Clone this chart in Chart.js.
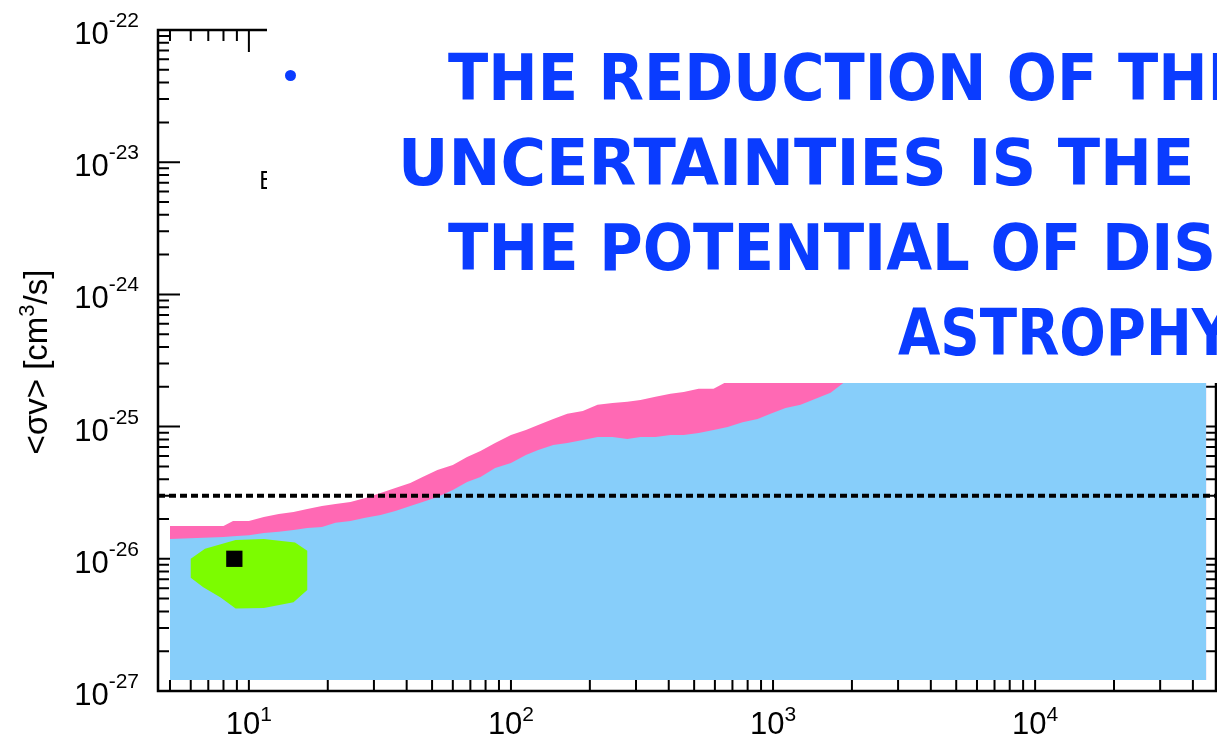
<!DOCTYPE html>
<html>
<head>
<meta charset="utf-8">
<script src="https://cdn.jsdelivr.net/npm/chart.js@4.4.1/dist/chart.umd.min.js"></script>
<style>
  body { margin: 0; background: #fff; }
  #quadro { position: relative; width: 1217px; height: 738px; overflow: hidden; }
  #grafico { position: absolute; left: 0; top: 0; }
  #letraE { position: absolute; left: 259px; top: 168px; font: 25px/25px "Liberation Sans Narrow", "DejaVu Sans Condensed", sans-serif; color: #000; }
  #caixa { position: absolute; left: 267px; top: 0; width: 960px; height: 383px; background: #fff; }
  #bala { position: absolute; left: 285px; top: 70px; width: 11px; height: 11px; border-radius: 50%; background: #0a3cff; }
  .linha { position: absolute; white-space: nowrap; font: bold 64px/64px "DejaVu Sans", sans-serif; color: #0a3cff; transform-origin: 0 0; }
</style>
</head>
<body>
<div id="quadro">
  <canvas id="grafico" width="1217" height="738"></canvas>
  <div id="letraE">E</div>
  <div id="caixa"></div>
  <div id="bala"></div>
  <div class="linha" id="l1">THE REDUCTION OF THE</div>
  <div class="linha" id="l2">UNCERTAINTIES IS THE</div>
  <div class="linha" id="l3">THE POTENTIAL OF DIS</div>
  <div class="linha" id="l4">ASTROPHY</div>
</div>
<script>
// massa (GeV) e limites de <sigma v> (cm^3/s)
const massa = [5, 8, 8.7, 10, 11.4, 13, 14.8, 16.7, 19, 21.4,
  24.4, 27.8, 31.8, 36.2, 41.3, 46, 52.4, 60, 68, 76.5,
  87, 100, 114, 127, 145, 164, 188, 214, 244, 278,
  312, 356, 406, 456, 520, 593, 671, 765, 873, 978,
  1116, 1274, 1518, 1658, 1891, 2500, 5000, 10000, 20000, 45000];

const limiteRosa = [1.77e-26, 1.77e-26, 1.93e-26, 1.93e-26, 2.07e-26, 2.18e-26, 2.26e-26, 2.38e-26, 2.51e-26, 2.60e-26,
  2.69e-26, 2.88e-26, 3.15e-26, 3.43e-26, 3.74e-26, 4.16e-26, 4.70e-26, 5.13e-26, 5.89e-26, 6.54e-26,
  7.52e-26, 8.64e-26, 9.42e-26, 1.03e-25, 1.14e-25, 1.25e-25, 1.31e-25, 1.46e-25, 1.51e-25, 1.54e-25,
  1.59e-25, 1.68e-25, 1.77e-25, 1.83e-25, 1.93e-25, 1.93e-25, 2.2e-25, 2.2e-25, 2.2e-25, 2.2e-25,
  2.2e-25, 2.2e-25, 2.2e-25, 2.2e-25, 2.2e-25, 2.2e-25, 2.2e-25, 2.2e-25, 2.2e-25, 2.2e-25];

const limiteAzul = [1.41e-26, 1.46e-26, 1.48e-26, 1.51e-26, 1.57e-26, 1.60e-26, 1.65e-26, 1.71e-26, 1.74e-26, 1.87e-26,
  1.93e-26, 2.04e-26, 2.14e-26, 2.30e-26, 2.51e-26, 2.69e-26, 2.93e-26, 3.31e-26, 3.81e-26, 4.16e-26,
  4.86e-26, 5.31e-26, 6.10e-26, 6.65e-26, 7.26e-26, 7.52e-26, 7.92e-26, 8.34e-26, 8.34e-26, 8.05e-26,
  8.34e-26, 8.34e-26, 8.64e-26, 8.64e-26, 8.95e-26, 9.42e-26, 9.93e-26, 1.08e-25, 1.14e-25, 1.25e-25,
  1.38e-25, 1.46e-25, 1.68e-25, 1.80e-25, 2.2e-25, 2.2e-25, 2.2e-25, 2.2e-25, 2.2e-25, 2.2e-25];

const fundo = 1.21e-27;

// contorno verde e melhor ajuste
const contornoX = [6.0, 6.8, 8.9, 11.4, 15.0, 16.7, 16.7, 14.8, 11.4, 8.9, 7.8, 6.7, 6.0, 6.0];
const contornoY = [1.0e-26, 1.19e-26, 1.39e-26, 1.41e-26, 1.33e-26, 1.15e-26, 5.8e-27, 4.7e-27, 4.25e-27, 4.2e-27, 5.1e-27, 6.1e-27, 7.2e-27, 1.0e-26];
const melhorX = [8.8];
const melhorY = [1.0e-26];

const termico = 3e-26;
const faixaX = [4.5, 49000];
const faixaY = [1e-27, 1e-22];
const expoentesX = [1, 2, 3, 4];
const expoentesY = [-27, -26, -25, -24, -23, -22];

const pares = (xs, ys) => xs.map((v, i) => ({ x: v, y: ys[i] }));

const moldura = {
  id: 'moldura',
  beforeDatasetsDraw(chart) {
    const { ctx, chartArea: a, scales: { x, y } } = chart;
    ctx.save();
    ctx.strokeStyle = '#000';
    ctx.lineWidth = 2;
    ctx.beginPath();
    for (let e = 0; e <= 4; e++) {
      for (let k = 1; k <= 9; k++) {
        const v = k * Math.pow(10, e);
        if (v < faixaX[0] || v > faixaX[1]) continue;
        const px = x.getPixelForValue(v);
        const len = k === 1 ? 22 : 11;
        ctx.moveTo(px, a.bottom); ctx.lineTo(px, a.bottom - len);
        ctx.moveTo(px, a.top); ctx.lineTo(px, a.top + len);
      }
    }
    for (let e = -27; e <= -23; e++) {
      for (let k = 1; k <= 9; k++) {
        const py = y.getPixelForValue(k * Math.pow(10, e));
        const len = k === 1 ? 22 : 11;
        ctx.moveTo(a.left, py); ctx.lineTo(a.left + len, py);
        ctx.moveTo(a.right, py); ctx.lineTo(a.right - len, py);
      }
    }
    ctx.stroke();
    ctx.lineWidth = 2.5;
    ctx.strokeRect(a.left, a.top, a.right - a.left, a.bottom - a.top);
    ctx.restore();
  },
  afterDraw(chart) {
    const { ctx, scales: { x, y } } = chart;
    ctx.save();
    ctx.fillStyle = '#000';
    ctx.textBaseline = 'alphabetic';
    const base = '31px "Liberation Sans", Arial, sans-serif';
    const sup = '21px "Liberation Sans", Arial, sans-serif';
    expoentesY.forEach(e => {
      const py = y.getPixelForValue(Math.pow(10, e));
      ctx.font = sup;
      const s = String(e);
      const ws = ctx.measureText(s).width;
      ctx.textAlign = 'right';
      ctx.fillText(s, 139, py - 3);
      ctx.font = base;
      ctx.fillText('10', 139 - ws, py + 14);
    });
    expoentesX.forEach(e => {
      const px = x.getPixelForValue(Math.pow(10, e));
      ctx.font = base;
      const w10 = ctx.measureText('10').width;
      ctx.font = sup;
      const s = String(e);
      const ws = ctx.measureText(s).width;
      const x0 = px - (w10 + ws) / 2;
      ctx.textAlign = 'left';
      ctx.fillText(s, x0 + w10, 721);
      ctx.font = base;
      ctx.fillText('10', x0, 734);
    });
    // titulo do eixo y
    const tBase = '33px "Liberation Sans", Arial, sans-serif';
    const tSup = '22px "Liberation Sans", Arial, sans-serif';
    ctx.translate(47, 362);
    ctx.rotate(-Math.PI / 2);
    ctx.textAlign = 'left';
    ctx.font = tBase;
    const p1 = '<σv> [cm', p3 = '/s]';
    const w1 = ctx.measureText(p1).width, w3 = ctx.measureText(p3).width;
    ctx.font = tSup;
    const w2 = ctx.measureText('3').width;
    const xi = -(w1 + w2 + w3) / 2;
    ctx.font = tBase;
    ctx.fillText(p1, xi, 0);
    ctx.font = tSup;
    ctx.fillText('3', xi + w1, -13);
    ctx.font = tBase;
    ctx.fillText(p3, xi + w1 + w2, 0);
    ctx.restore();
  }
};

new Chart(document.getElementById('grafico'), {
  type: 'line',
  data: {
    datasets: [
      { data: pares(melhorX, melhorY), showLine: false, pointStyle: 'rect', pointRadius: 11.5,
        backgroundColor: '#000', borderColor: '#000', borderWidth: 0 },
      { data: pares(contornoX, contornoY), borderWidth: 0, pointRadius: 0,
        backgroundColor: '#7cfc00', fill: 'shape' },
      { data: pares(faixaX, [termico, termico]), borderColor: '#000', borderWidth: 4,
        borderDash: [7, 4], pointRadius: 0, fill: false },
      { data: pares(massa, limiteAzul), borderWidth: 0, pointRadius: 0,
        backgroundColor: '#87cefa', fill: { value: fundo } },
      { data: pares(massa, limiteRosa), borderWidth: 0, pointRadius: 0,
        backgroundColor: '#ff69b4', fill: { value: fundo } }
    ]
  },
  options: {
    responsive: false,
    animation: false,
    devicePixelRatio: 1,
    layout: { autoPadding: false, padding: { left: 158, top: 30, right: 1, bottom: 47 } },
    plugins: { legend: { display: false }, tooltip: { enabled: false } },
    scales: {
      x: { type: 'logarithmic', min: faixaX[0], max: faixaX[1], display: false },
      y: { type: 'logarithmic', min: faixaY[0], max: faixaY[1], display: false }
    }
  },
  plugins: [moldura]
});

// ajusta as linhas de texto azul
const med = document.createElement('canvas').getContext('2d');
med.font = 'bold 64px "DejaVu Sans", sans-serif';
function caixaTexto(t) {
  const m = med.measureText(t);
  return { esq: m.actualBoundingBoxLeft, larg: m.actualBoundingBoxLeft + m.actualBoundingBoxRight };
}
const linhas = [
  { id: 'l1', ref: 'THE REDUCTION OF', x0: 448, larg: 645, base: 100 },
  { id: 'l2', ref: 'UNCERTAINTIES IS THE', x0: 403, larg: 788, base: 185 },
  { id: 'l3', ref: 'THE POTENTIAL OF', x0: 448, larg: 629, base: 270 },
  { id: 'l4', ref: 'ASTROPH', x0: 898, larg: 289, base: 355 }
];
linhas.forEach(l => {
  const el = document.getElementById(l.id);
  const c = caixaTexto(l.ref);
  const s = l.larg / c.larg;
  el.style.left = (l.x0 + c.esq * s) + 'px';
  el.style.top = (l.base - 54) + 'px';
  el.style.transform = 'scaleX(' + s + ')';
});
</script>
</body>
</html>
